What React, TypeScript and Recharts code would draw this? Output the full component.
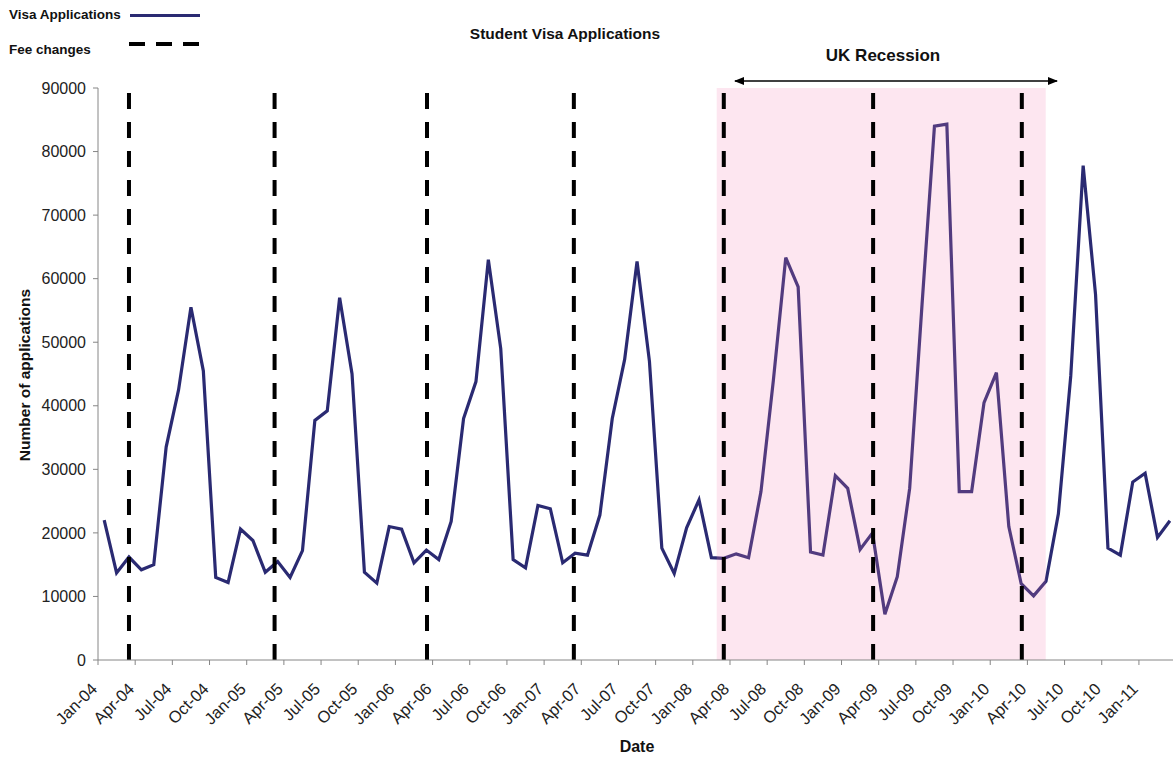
import { LineChart, Line, XAxis, YAxis, ReferenceLine, ReferenceArea } from "recharts";

// monthly student visa applications, Jan-04 .. Mar-11
const apps2004 = [22000, 13700, 16200, 14200, 15000, 33500, 42500, 55500, 45500, 13000, 12200, 20600];
const apps2005 = [18800, 13800, 15500, 13000, 17200, 37700, 39200, 57000, 45000, 13800, 12100, 21000];
const apps2006 = [20600, 15300, 17300, 15800, 21800, 38000, 43800, 63000, 49000, 15800, 14500, 24300];
const apps2007 = [23800, 15300, 16800, 16500, 22800, 38000, 47300, 62700, 47000, 17600, 13600, 20800];
const apps2008 = [25200, 16100, 16000, 16700, 16100, 26500, 44000, 63300, 58700, 17000, 16500, 29000];
const apps2009 = [27000, 17400, 20000, 7200, 13100, 27000, 56000, 84000, 84300, 26500, 26500, 40500];
const apps2010 = [45200, 21000, 12000, 10100, 12400, 23000, 44700, 77800, 57500, 17600, 16500, 28000];
const apps2011 = [29400, 19300, 21900];

const monthNames = ["Jan", "Feb", "Mar", "Apr", "May", "Jun", "Jul", "Aug", "Sep", "Oct", "Nov", "Dec"];
const years = ["04", "05", "06", "07", "08", "09", "10", "11"];

const tickLabels = [
    "Jan-04", "Apr-04", "Jul-04", "Oct-04", "Jan-05", "Apr-05", "Jul-05", "Oct-05",
    "Jan-06", "Apr-06", "Jul-06", "Oct-06", "Jan-07", "Apr-07", "Jul-07", "Oct-07",
    "Jan-08", "Apr-08", "Jul-08", "Oct-08", "Jan-09", "Apr-09", "Jul-09", "Oct-09",
    "Jan-10", "Apr-10", "Jul-10", "Oct-10", "Jan-11",
];
const yTicks = [0, 10000, 20000, 30000, 40000, 50000, 60000, 70000, 80000, 90000];

// fee changes and recession period, in months since Jan-04
const feeChanges = [2, 13.75, 26.05, 37.9, 50, 62.05, 74.05];
const recession = [49.43, 75.98];

const values = [...apps2004, ...apps2005, ...apps2006, ...apps2007, ...apps2008, ...apps2009, ...apps2010, ...apps2011];
const data = values.map((v, i) => ({
    i,
    month: monthNames[i % 12] + "-" + years[Math.floor(i / 12)],
    v,
}));
const xTicks = tickLabels.map((_, k) => k * 3);

const W = 1173;
const H = 760;
const PLOT_LEFT = 98;
const X_MIN = -0.5;
const X_MAX = 86.25;
const HALF = (W - PLOT_LEFT) / (X_MAX - X_MIN) / 2;
const FONT = "'Liberation Sans', Arial, sans-serif";
const NAVY = "#2a2a72";

function DateTick(props: any) {
    const { x, y, payload } = props;
    const label = tickLabels[payload.value / 3];
    const ax = x - 6;
    const ay = y + 30;
    return (
        <g>
            <line x1={x - HALF} y1={y} x2={x - HALF} y2={y + 5} stroke="#868686" />
            <text x={ax} y={ay} textAnchor="end" fontSize={16.5} fill="#222"
                  fontFamily={FONT} transform={`rotate(-45, ${ax}, ${ay})`}>
                {label}
            </text>
        </g>
    );
}

export default function App() {
    return (
        <div style={{ position: "absolute", left: 0, top: 0, width: W, height: H, background: "#fff" }}>
            <LineChart width={W} height={H} data={data}
                       margin={{ top: 88, right: 0, bottom: 40, left: 38 }}>
                <XAxis type="number" dataKey="i" domain={[X_MIN, X_MAX]} ticks={xTicks}
                       allowDataOverflow interval={0} height={60}
                       stroke="#868686" tickLine={false} tickSize={0} tickMargin={0}
                       tick={<DateTick />} />
                <YAxis domain={[0, 90000]} ticks={yTicks} width={60} interval={0}
                       stroke="#868686" tickSize={5} tickMargin={7}
                       tick={{ fontSize: 16, fill: "#222", fontFamily: FONT }} />
                <Line type="linear" dataKey="v" stroke={NAVY} strokeWidth={3.2} dot={false}
                      activeDot={false} isAnimationActive={false} strokeLinejoin="miter" />
                <ReferenceArea x1={recession[0]} x2={recession[1]} y1={0} y2={90000}
                               fill="#f582b4" fillOpacity={0.2} stroke="none"
                               ifOverflow="hidden" zIndex={450} />
                {feeChanges.map(f => (
                    <ReferenceLine key={f} x={f} stroke="#000" strokeWidth={4}
                                   strokeDasharray="16 13" zIndex={460} />
                ))}
            </LineChart>

            <svg width={W} height={H} style={{ position: "absolute", left: 0, top: 0, pointerEvents: "none" }}
                 fontFamily={FONT} fontWeight="bold">
                <defs>
                    <marker id="ah" markerWidth="10" markerHeight="8" refX="9" refY="4" orient="auto-start-reverse"
                            markerUnits="userSpaceOnUse">
                        <path d="M0,0 L10,4 L0,8 z" fill="#000" />
                    </marker>
                </defs>
                <text x={9} y={19} fontSize={13.5} fill="#111">Visa Applications</text>
                <line x1={130} y1={15.5} x2={200} y2={15.5} stroke={NAVY} strokeWidth={3} />
                <text x={9} y={54} fontSize={13.5} fill="#111">Fee changes</text>
                <line x1={129} y1={44} x2={200} y2={44} stroke="#000" strokeWidth={4} strokeDasharray="16 11" />
                <text x={565} y={39} fontSize={15.5} fill="#111" textAnchor="middle">Student Visa Applications</text>
                <text x={883} y={61} fontSize={17} fill="#111" textAnchor="middle">UK Recession</text>
                <line x1={735} y1={81} x2={1057} y2={81} stroke="#000" strokeWidth={1.3}
                      markerStart="url(#ah)" markerEnd="url(#ah)" />
                <text x={30} y={375} fontSize={15.5} fill="#111" textAnchor="middle"
                      transform="rotate(-90, 30, 375)">Number of applications</text>
                <text x={637} y={752} fontSize={16} fill="#111" textAnchor="middle">Date</text>
            </svg>
        </div>
    );
}
